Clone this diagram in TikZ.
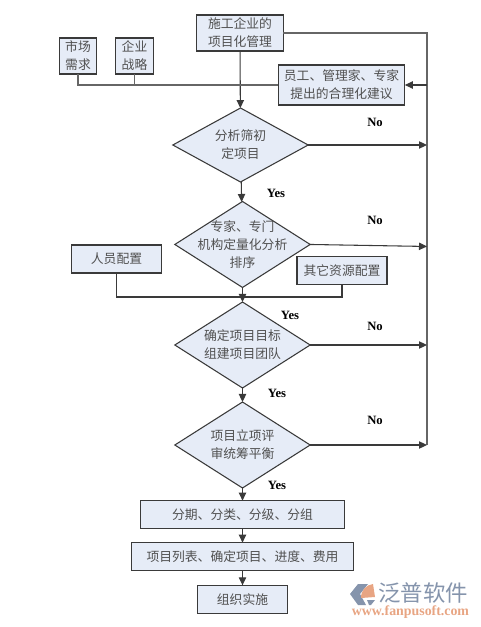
\documentclass[tikz,border=0pt]{standalone}
\usepackage{fontspec}
\setmainfont{Noto Sans CJK SC}
\newfontfamily\yesfont{Liberation Serif}
\usetikzlibrary{arrows.meta, shapes.geometric, positioning, calc}
\definecolor{boxcolor}{HTML}{E6ECF7}
\definecolor{linecolor}{HTML}{3A3A3A}
\definecolor{railcolor}{HTML}{666666}
\definecolor{txtcolor}{HTML}{505050}
\definecolor{markblue}{HTML}{8594AC}
\definecolor{markorange}{HTML}{E8A583}

\begin{document}
\begin{tikzpicture}[
  x=0.75pt, y=-0.75pt,
  node distance=10pt and 10pt,
  box/.style={draw=linecolor, fill=boxcolor, line width=0.8pt, align=center,
              inner sep=0pt, outer sep=0pt, text=txtcolor,
              font=\fontsize{9.6}{13.5}\selectfont},
  decision/.style={box, diamond, minimum width=101.5pt, minimum height=64.5pt,
                   inner sep=-9pt, aspect=1.57},
  arrow/.style={-{Triangle[length=6pt,width=5.5pt]}, line width=0.8pt, color=linecolor},
  rail/.style={line width=1.1pt, color=railcolor},
  answer/.style={font=\yesfont\fontsize{9.5}{11}\selectfont\bfseries},
]
\useasboundingbox (0,0) rectangle (480,627);

%% Top row
\node[box, minimum width=65pt, minimum height=27pt] (manage) at (240,33) {施工企业的\\项目化管理};
\node[box, minimum width=28pt, minimum height=27pt] (market) at (78,56) {市场\\需求};
\node[box, minimum width=28pt, minimum height=27pt] (strategy) at (134.5,56) {企业\\战略};
\node[box, minimum width=95pt, minimum height=30pt] (advice) at (341.5,85) {员工、管理家、专家\\提出的合理化建议};

%% Decisions
\node[decision, minimum height=55.5pt] (first) at (240.5,145) {分析筛初\\定项目};
\node[decision, below=14.6pt of first.south, anchor=north, xshift=1.5pt] (rank) {专家、专门\\机构定量化分析\\排序};
\node[decision, below=10.9pt of rank.south, anchor=north] (team) {确定项目目标\\组建项目团队};
\node[decision, below=10.5pt of team.south, anchor=north] (review) {项目立项评\\审统筹平衡};

%% Resources
\node[box, minimum width=68pt, minimum height=21pt] (staff) at (116.5,259) {人员配置};
\node[box, minimum width=67.5pt, minimum height=21.5pt] (other) at (342,270.5) {其它资源配置};

%% Bottom boxes
\node[box, minimum width=153pt, minimum height=21pt, below=9.5pt of review.south, anchor=north] (sort) {分期、分类、分级、分组};
\node[box, minimum width=166pt, minimum height=21pt, below=10.5pt of sort] (list) {项目列表、确定项目、进度、费用};
\node[box, minimum width=67pt, minimum height=21pt, below=11pt of list] (run) {组织实施};

%% Rail on the right
\coordinate (railtop) at (427,33);
\coordinate (railend) at (427,445);
\coordinate (merge) at (242.5,297);

%% Arrows
\draw[arrow] (manage) -- (first);
\draw[arrow] (first) -- (rank);
\draw[arrow] (rank) -- (team);
\draw[arrow] (team) -- (review);
\draw[arrow] (review) -- (sort);
\draw[arrow] (sort) -- (list);
\draw[arrow] (list) -- (run);
\draw[rail] (manage.east |- railtop) -- (railtop) -- (railend);
\draw[rail] (market.south) |- (advice.west);
\draw[rail] (strategy.south) -- (strategy.south |- advice.west);
\draw[arrow] (advice.east -| railtop) -- (advice.east);
\draw[arrow] (first.east) -- (first.east -| railtop);
\draw[arrow] (rank.east) -- ($(rank.east -| railtop)+(0,-1.5pt)$);
\draw[arrow] (team.east) -- (team.east -| railtop);
\draw[arrow] (review.east) -- (review.east -| railtop);
\draw[linecolor, line width=0.8pt] (staff.south) |- (merge) -| (other.south);

%% Answers
\node[answer] (no1) at (375,122.5) {No};
\node[answer] (no2) at (375,220.5) {No};
\node[answer] (no3) at (375,326.5) {No};
\node[answer] (no4) at (375,420.5) {No};
\node[answer] (yes1) at (276,193.5) {Yes};
\node[answer] (yes2) at (290,315.5) {Yes};
\node[answer] (yes3) at (277,393.5) {Yes};
\node[answer] (yes4) at (277,485.5) {Yes};

%% Watermark
\fill[markblue] (358,584) -- (368,584) -- (360,594) -- (366,605) -- (358,605) -- (350,594) -- cycle;
\fill[markorange] (361,598) .. controls (361,590) and (366,585) .. (373,584) -- (375,597) -- cycle;
\fill[markblue] (367,600) -- (375,600) -- (371,605) -- (369,605) -- cycle;
\node[font=\fontsize{16.8}{17}\selectfont, text=markblue] (brand) at (423,593) {泛普软件};
\node[font=\yesfont\fontsize{10.4}{10}\selectfont\bfseries, text=markorange] (site) at (410.5,612) {www.fanpusoft.com};

\end{tikzpicture}
\end{document}
